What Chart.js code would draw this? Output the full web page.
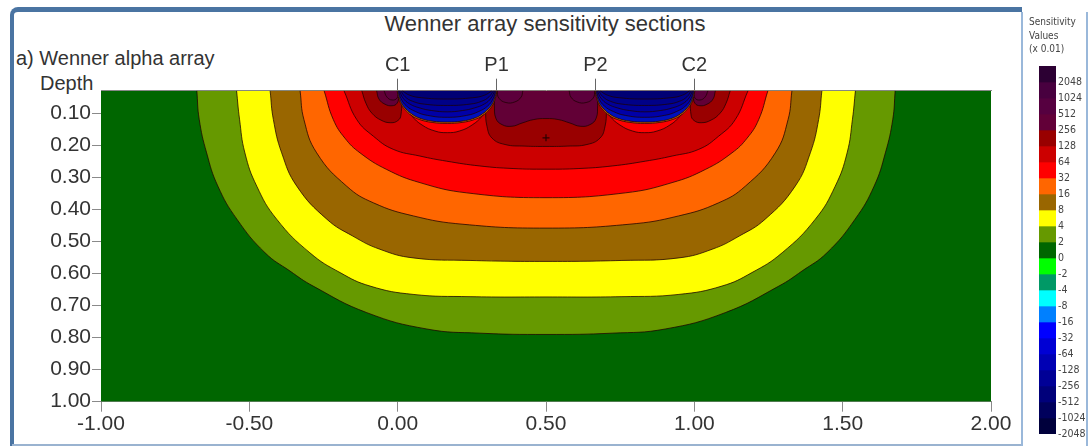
<!DOCTYPE html>
<html><head><meta charset="utf-8">
<script src="https://cdn.jsdelivr.net/npm/chart.js@4.4.1/dist/chart.umd.min.js"></script>
<style>
html,body{margin:0;padding:0;background:#fff;width:1089px;height:446px;overflow:hidden;font-family:"Liberation Sans",Arial,sans-serif;color:#333}
.abs{position:absolute}
#frame{left:10px;top:7px;width:1012px;height:460px;border-left:4px solid #4a74a2;border-top:5px solid #4a74a2;border-top-left-radius:8px;box-sizing:border-box}
#bottomline{left:12px;top:444px;width:1010px;height:2px;background:#9ab3d0}
#legendPanel{left:1021px;top:12px;width:67px;height:440px;border-left:2px solid #9ab8da;border-right:2px solid #9ab8da;box-sizing:border-box}
#title{left:295px;width:500px;top:12.6px;text-align:center;font-size:22px;line-height:22px;color:#333}
#sub{left:16px;top:48.4px;font-size:20px;line-height:20px;color:#333}
#depth{left:40px;top:73.4px;font-size:20px;line-height:20px;color:#333}
#legTitle{left:1029px;top:15px;font-family:"Liberation Sans Narrow","DejaVu Sans Condensed",Arial,sans-serif;font-size:10px;line-height:13.5px;color:#444}
#main{left:0;top:0}
#bar{left:1030px;top:56px}
</style>
</head><body>
<div id="frame" class="abs"></div>
<div id="bottomline" class="abs"></div>
<div id="legendPanel" class="abs"></div>
<div class="abs" id="title">Wenner array sensitivity sections</div>
<div class="abs" id="sub">a) Wenner alpha array</div>
<div class="abs" id="depth">Depth</div>
<canvas id="main" class="abs" width="1030" height="446"></canvas>
<div class="abs" id="legTitle">Sensitivity<br>Values<br>(x 0.01)</div>
<canvas id="bar" class="abs" width="59" height="388"></canvas>
<script>
// ---------- axes ----------
const depthTop = 0.029, depthBottom = 1.0;
const xMin = -1, xMax = 2;
const xTickValues = [-1, -0.5, 0, 0.5, 1, 1.5, 2];
const xTickLabels = ['-1.00', '-0.50', '0.00', '0.50', '1.00', '1.50', '2.00'];
const depthTickValues = [0.1, 0.2, 0.3, 0.4, 0.5, 0.6, 0.7, 0.8, 0.9, 1.0];
const depthTickLabels = ['0.10', '0.20', '0.30', '0.40', '0.50', '0.60', '0.70', '0.80', '0.90', '1.00'];
const electrodeX = [0, 1/3, 2/3, 1];
const electrodeLabels = ['C1', 'P1', 'P2', 'C2'];

// ---------- contour boundaries (x position, depth) ----------
const bgX = [-1, 2];
const bgD = [1, 1];
const c2X = [-0.677, -0.669, -0.644, -0.606, -0.542, -0.447, -0.363, -0.285, -0.104, 0.098, 0.277, 0.5, 0.723, 0.902, 1.104, 1.285, 1.363, 1.447, 1.542, 1.606, 1.644, 1.669, 1.677];
const c2D = [0.029, 0.118, 0.223, 0.327, 0.430, 0.535, 0.592, 0.639, 0.722, 0.773, 0.786, 0.790, 0.786, 0.773, 0.722, 0.639, 0.592, 0.535, 0.430, 0.327, 0.223, 0.118, 0.029];
const c4X = [-0.543, -0.533, -0.515, -0.475, -0.408, -0.296, -0.194, -0.093, 0.052, 0.244, 0.5, 0.756, 0.948, 1.093, 1.194, 1.296, 1.408, 1.475, 1.515, 1.533, 1.543];
const c4D = [0.029, 0.118, 0.223, 0.327, 0.430, 0.535, 0.597, 0.639, 0.665, 0.672, 0.673, 0.672, 0.665, 0.639, 0.597, 0.535, 0.430, 0.327, 0.223, 0.118, 0.029];
const c8X = [-0.430, -0.419, -0.391, -0.340, -0.239, -0.151, -0.060, 0.052, 0.244, 0.5, 0.756, 0.948, 1.060, 1.151, 1.239, 1.340, 1.391, 1.419, 1.430];
const c8D = [0.029, 0.119, 0.223, 0.327, 0.430, 0.483, 0.524, 0.551, 0.559, 0.562, 0.559, 0.551, 0.524, 0.483, 0.430, 0.327, 0.223, 0.119, 0.029];
const c16X = [-0.329, -0.316, -0.273, -0.172, -0.082, 0.053, 0.220, 0.5, 0.780, 0.947, 1.082, 1.172, 1.273, 1.316, 1.329];
const c16D = [0.029, 0.119, 0.223, 0.327, 0.379, 0.420, 0.446, 0.458, 0.446, 0.420, 0.379, 0.327, 0.223, 0.119, 0.029];
const c32X = [-0.248, -0.217, -0.178, -0.127, -0.037, 0.075, 0.233, 0.5, 0.767, 0.925, 1.037, 1.127, 1.178, 1.217, 1.248];
const c32D = [0.029, 0.119, 0.177, 0.223, 0.275, 0.316, 0.348, 0.363, 0.348, 0.316, 0.275, 0.223, 0.177, 0.119, 0.029];
const c64X = [-0.181, -0.138, -0.082, -0.015, 0.075, 0.165, 0.277, 0.389, 0.5, 0.611, 0.723, 0.835, 0.925, 1.015, 1.082, 1.138, 1.181];
const c64D = [0.029, 0.119, 0.171, 0.212, 0.233, 0.249, 0.264, 0.272, 0.274, 0.272, 0.264, 0.249, 0.233, 0.212, 0.171, 0.119, 0.029];
// red crescents under the negative zones
const crescLX = [0.018, 0.025, 0.048, 0.082, 0.126, 0.167, 0.208, 0.251, 0.285, 0.309, 0.315];
const crescRX = [0.685, 0.691, 0.715, 0.749, 0.792, 0.833, 0.874, 0.918, 0.952, 0.975, 0.982];
const crescD  = [0.029, 0.074, 0.108, 0.136, 0.155, 0.160, 0.155, 0.136, 0.108, 0.074, 0.029];
// 128-256 lobes
const lobeC1X = [-0.121, -0.107, -0.087, -0.056, -0.023, 0.001, 0.011, 0.015];
const lobeC1D = [0.029, 0.068, 0.099, 0.121, 0.129, 0.122, 0.105, 0.029];
const lobeC2X = [0.985, 0.989, 0.999, 1.023, 1.056, 1.087, 1.107, 1.121];
const lobeC2D = [0.029, 0.105, 0.122, 0.129, 0.121, 0.099, 0.068, 0.029];
const lobeMidX = [0.294, 0.296, 0.301, 0.318, 0.362, 0.429, 0.5, 0.571, 0.638, 0.682, 0.699, 0.704, 0.706];
const lobeMidD = [0.029, 0.090, 0.140, 0.177, 0.197, 0.202, 0.203, 0.202, 0.197, 0.177, 0.140, 0.090, 0.029];
// 256-512 lobes
const purC1X = [-0.071, -0.063, -0.043, -0.019, -0.002, 0.004, 0.006];
const purC1D = [0.029, 0.055, 0.071, 0.076, 0.068, 0.046, 0.029];
const purC2X = [0.994, 0.996, 1.002, 1.019, 1.043, 1.063, 1.071];
const purC2D = [0.029, 0.046, 0.068, 0.076, 0.071, 0.055, 0.029];
const purMidX = [0.325, 0.326, 0.331, 0.352, 0.385, 0.419, 0.459, 0.5, 0.541, 0.581, 0.615, 0.648, 0.669, 0.674, 0.675];
const purMidD = [0.029, 0.074, 0.115, 0.135, 0.140, 0.130, 0.119, 0.116, 0.119, 0.130, 0.140, 0.135, 0.115, 0.074, 0.029];
// 512-1024 lobes next to the electrodes
const inC1X = [-0.046, -0.036, -0.019, -0.002, 0.003];
const inC1D = [0.029, 0.049, 0.058, 0.052, 0.029];
const inP1X = [0.335, 0.341, 0.365, 0.395, 0.416, 0.422];
const inP1D = [0.029, 0.052, 0.066, 0.064, 0.049, 0.029];
const inP2X = [0.578, 0.584, 0.605, 0.635, 0.659, 0.665];
const inP2D = [0.029, 0.049, 0.064, 0.066, 0.052, 0.029];
const inC2X = [0.997, 1.002, 1.019, 1.036, 1.046];
const inC2D = [0.029, 0.052, 0.058, 0.049, 0.029];
// negative zones between C1-P1 and P2-C2 (rim, then nested bowls)
const rimLX = [-0.002, 0.004, 0.013, 0.026, 0.046, 0.074, 0.116, 0.167, 0.217, 0.259, 0.287, 0.307, 0.320, 0.329, 0.335];
const rimRX = [0.665, 0.671, 0.680, 0.693, 0.713, 0.741, 0.783, 0.833, 0.884, 0.926, 0.954, 0.974, 0.987, 0.996, 1.002];
const rimD  = [0.029, 0.054, 0.074, 0.089, 0.106, 0.119, 0.128, 0.131, 0.128, 0.119, 0.106, 0.089, 0.074, 0.054, 0.029];
const neg1LX = [0.000, 0.006, 0.015, 0.028, 0.048, 0.075, 0.116, 0.167, 0.217, 0.258, 0.285, 0.305, 0.318, 0.327, 0.333];
const neg1RX = [0.667, 0.673, 0.682, 0.695, 0.715, 0.742, 0.783, 0.833, 0.884, 0.925, 0.952, 0.972, 0.985, 0.994, 1.000];
const neg1D  = [0.029, 0.052, 0.071, 0.086, 0.102, 0.115, 0.124, 0.127, 0.124, 0.115, 0.102, 0.086, 0.071, 0.052, 0.029];
const neg2LX = [0.003, 0.012, 0.030, 0.060, 0.100, 0.167, 0.233, 0.273, 0.303, 0.321, 0.330];
const neg2RX = [0.670, 0.679, 0.697, 0.727, 0.767, 0.833, 0.900, 0.940, 0.970, 0.988, 0.997];
const neg2D  = [0.029, 0.055, 0.077, 0.094, 0.106, 0.112, 0.106, 0.094, 0.077, 0.055, 0.029];
const neg3LX = [0.006, 0.018, 0.040, 0.075, 0.115, 0.167, 0.218, 0.258, 0.293, 0.315, 0.327];
const neg3RX = [0.673, 0.685, 0.707, 0.742, 0.782, 0.833, 0.885, 0.925, 0.960, 0.982, 0.994];
const neg3D  = [0.029, 0.052, 0.070, 0.083, 0.091, 0.095, 0.091, 0.083, 0.070, 0.052, 0.029];
const neg4LX = [0.010, 0.025, 0.050, 0.090, 0.167, 0.243, 0.283, 0.308, 0.323];
const neg4RX = [0.677, 0.692, 0.717, 0.757, 0.833, 0.910, 0.950, 0.975, 0.990];
const neg4D  = [0.029, 0.048, 0.062, 0.071, 0.075, 0.071, 0.062, 0.048, 0.029];
const neg5LX = [0.015, 0.040, 0.080, 0.167, 0.253, 0.293, 0.318];
const neg5RX = [0.682, 0.707, 0.747, 0.833, 0.920, 0.960, 0.985];
const neg5D  = [0.029, 0.043, 0.051, 0.055, 0.051, 0.043, 0.029];
// maximum marker
const markX = [0.5];
const markD = [0.176];

// ---------- colour scale (top to bottom) ----------
const legendLabels = ['2048','1024','512','256','128','64','32','16','8','4','2','0','-2','-4','-8','-16','-32','-64','-128','-256','-512','-1024','-2048'];
const legendColors = ['#2c0033','#48003f','#560040','#620038','#990000','#cc0000','#ff0000','#ff6600','#996600','#ffff00','#669900','#006600',
  '#00ff00','#009966','#00ffff','#0080ff','#0000ff','#0000d4','#0000b4','#000096','#00007a','#00005c','#00003c'];

// ---------- layers, bottom to top ----------
const layers = [
  {x: bgX, d: bgD, color: '#006600', noLine: true},
  {x: c2X, d: c2D, color: '#669900'},
  {x: c4X, d: c4D, color: '#ffff00'},
  {x: c8X, d: c8D, color: '#996600'},
  {x: c16X, d: c16D, color: '#ff6600'},
  {x: c32X, d: c32D, color: '#ff0000'},
  {x: c64X, d: c64D, color: '#cc0000'},
  {x: crescLX, d: crescD, color: '#ff0000'},
  {x: crescRX, d: crescD, color: '#ff0000'},
  {x: lobeC1X, d: lobeC1D, color: '#990000'},
  {x: lobeC2X, d: lobeC2D, color: '#990000'},
  {x: lobeMidX, d: lobeMidD, color: '#990000'},
  {x: purC1X, d: purC1D, color: '#620036'},
  {x: purC2X, d: purC2D, color: '#620036'},
  {x: purMidX, d: purMidD, color: '#620036'},
  {x: inC1X, d: inC1D, color: '#5c003c'},
  {x: inP1X, d: inP1D, color: '#5c003c'},
  {x: inP2X, d: inP2D, color: '#5c003c'},
  {x: inC2X, d: inC2D, color: '#5c003c'},
  {x: rimLX, d: rimD, color: '#d87000'},
  {x: rimRX, d: rimD, color: '#d87000'},
  {x: neg1LX, d: neg1D, color: '#0010bc'},
  {x: neg1RX, d: neg1D, color: '#0010bc'},
  {x: neg2LX, d: neg2D, color: '#0000a8'},
  {x: neg2RX, d: neg2D, color: '#0000a8'},
  {x: neg3LX, d: neg3D, color: '#000098'},
  {x: neg3RX, d: neg3D, color: '#000098'},
  {x: neg4LX, d: neg4D, color: '#000088'},
  {x: neg4RX, d: neg4D, color: '#000088'},
  {x: neg5LX, d: neg5D, color: '#000074'},
  {x: neg5RX, d: neg5D, color: '#000074'}
];

const datasets = layers.map((L, i) => ({
  data: L.x.map((x, k) => ({x: x, y: L.d[k]})),
  fill: 'end',
  backgroundColor: L.color,
  borderColor: L.noLine ? 'rgba(0,0,0,0)' : 'rgba(30,0,0,0.75)',
  borderWidth: L.noLine ? 0 : 1,
  pointRadius: 0,
  pointHoverRadius: 0,
  tension: 0.45,
  order: 1000 - i
}));
datasets.push({
  data: markX.map((x, k) => ({x: x, y: markD[k]})),
  showLine: false,
  fill: false,
  pointStyle: 'cross',
  pointRadius: 3.5,
  pointBorderColor: '#2a0000',
  pointBorderWidth: 1.2,
  order: 0
});

const tickFont = {family: '"Liberation Sans", Arial, sans-serif', size: 21};
const axisGrey = '#8a8a8a';

new Chart(document.getElementById('main'), {
  type: 'line',
  data: {datasets: datasets},
  options: {
    responsive: false,
    animation: false,
    devicePixelRatio: 1,
    events: [],
    layout: {padding: {left: 0, right: 39, top: 50, bottom: 0}},
    plugins: {legend: {display: false}, tooltip: {enabled: false}},
    scales: {
      x: {
        type: 'linear', position: 'bottom', min: xMin, max: xMax,
        afterBuildTicks: a => { a.ticks = xTickValues.map(v => ({value: v})); },
        afterFit: s => { s.height = 44.3; },
        ticks: {autoSkip: false, maxRotation: 0, padding: 0, color: '#333', font: tickFont,
                callback: (v, i) => xTickLabels[i]},
        grid: {drawOnChartArea: false, drawTicks: true, tickLength: 10, color: axisGrey},
        border: {display: true, color: axisGrey}
      },
      xTop: {
        type: 'linear', position: 'top', min: xMin, max: xMax,
        afterBuildTicks: a => { a.ticks = electrodeX.map(v => ({value: v})); },
        afterFit: s => { s.height = 40.7; },
        ticks: {autoSkip: false, maxRotation: 0, padding: 1, color: '#333', font: {family: tickFont.family, size: 20},
                callback: (v, i) => electrodeLabels[i]},
        grid: {drawOnChartArea: false, drawTicks: true, tickLength: 12, color: '#666'},
        border: {display: true, color: axisGrey}
      },
      y: {
        type: 'linear', position: 'left', reverse: true, min: depthTop, max: depthBottom,
        afterBuildTicks: a => { a.ticks = depthTickValues.map(v => ({value: v})); },
        afterFit: s => { s.width = 101; },
        ticks: {autoSkip: false, padding: 1, color: '#333', font: tickFont,
                callback: (v, i) => depthTickLabels[i]},
        grid: {drawOnChartArea: false, drawTicks: true, tickLength: 9, color: axisGrey},
        border: {display: true, color: axisGrey}
      }
    }
  }
});

// ---------- colour bar ----------
const barDatasets = legendColors.map(c => ({
  data: [1], backgroundColor: c, borderWidth: 0,
  barPercentage: 1, categoryPercentage: 1
}));
new Chart(document.getElementById('bar'), {
  type: 'bar',
  data: {labels: [''], datasets: barDatasets},
  options: {
    responsive: false, animation: false, devicePixelRatio: 1, events: [],
    layout: {padding: {left: 9, right: 0, top: 10, bottom: 10}},
    plugins: {legend: {display: false}, tooltip: {enabled: false}},
    scales: {
      x: {display: false, stacked: true},
      y: {
        stacked: true, position: 'right', reverse: true, min: 0, max: legendLabels.length,
        afterBuildTicks: a => { a.ticks = legendLabels.map((l, i) => ({value: i + 1})); },
        afterFit: s => { s.width = 33; },
        ticks: {autoSkip: false, padding: 2, color: '#444',
                font: {family: '"Liberation Sans Narrow", "DejaVu Sans Condensed", Arial, sans-serif', size: 10.5},
                callback: (v, i) => legendLabels[i]},
        grid: {display: false, drawTicks: false},
        border: {display: false}
      }
    }
  }
});
</script>
</body></html>
